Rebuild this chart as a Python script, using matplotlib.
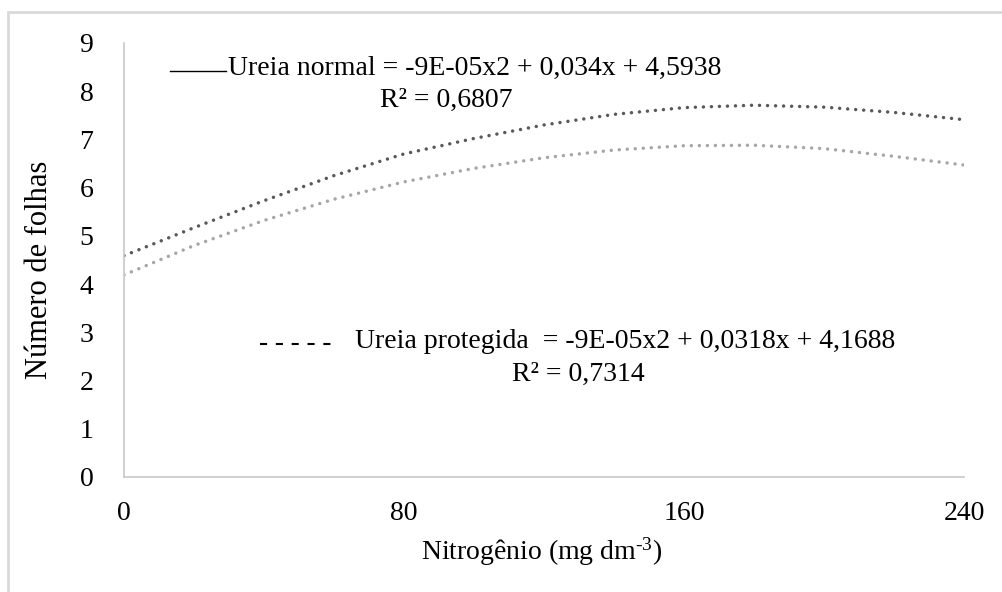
import matplotlib
matplotlib.use("Agg")
import matplotlib.pyplot as plt
from matplotlib.lines import Line2D
from matplotlib.patches import Rectangle

plt.rcParams['font.family'] = ['Liberation Serif', 'DejaVu Serif']
plt.rcParams['mathtext.fontset'] = 'custom'
plt.rcParams['mathtext.rm'] = 'Liberation Serif'
plt.rcParams['mathtext.it'] = 'Liberation Serif:italic'

# Data
nitrogen = [0, 20, 40, 60, 80, 100, 120, 140, 160, 180, 200, 220, 240]
ureia_normal = [4.59, 5.17, 5.73, 6.25, 6.70, 7.02, 7.30, 7.52, 7.66, 7.71, 7.67, 7.56, 7.41]
ureia_protegida = [4.19, 4.80, 5.32, 5.76, 6.12, 6.40, 6.62, 6.78, 6.87, 6.88, 6.81, 6.65, 6.47]
x_ticks = [0, 80, 160, 240]
y_ticks = [0, 1, 2, 3, 4, 5, 6, 7, 8, 9]

W, H = 1002, 592
fig = plt.figure(figsize=(W / 100, H / 100), dpi=100)
ax = fig.add_axes([124 / W, 1 - 477 / H, (964 - 124) / W, (477 - 43) / H])

dot = (0, (0.01, 2.3))
ax.plot(nitrogen, ureia_normal, color='#595959', lw=2.5, linestyle=dot,
        dash_capstyle='round', solid_capstyle='round')
ax.plot(nitrogen, ureia_protegida, color='#a6a6a6', lw=2.5, linestyle=dot,
        dash_capstyle='round', solid_capstyle='round')

ax.set_xlim(0, 240)
ax.set_ylim(0, 9)
ax.set_xticks(x_ticks)
ax.set_yticks(y_ticks)
ax.tick_params(length=0, labelsize=20, colors='#000000')
ax.tick_params(axis='y', pad=22)
ax.tick_params(axis='x', pad=17)
for s in ['top', 'right']:
    ax.spines[s].set_visible(False)
for s in ['left', 'bottom']:
    ax.spines[s].set_color('#c8c8c8')
    ax.spines[s].set_linewidth(1.2)

fig.text(40 / W, 1 - 270 / H, 'Número de folhas', rotation=90, fontsize=22,
         ha='center', va='center')
fig.text(542 / W, 1 - 552 / H, 'Nitrogênio (mg dm$^{\\text{-3}}$)', fontsize=20,
         ha='center', va='center')

# Equation annotations
fig.add_artist(Line2D([170 / W, 226 / W], [1 - 71 / H, 1 - 71 / H], color='black', lw=1.0))
fig.text(228 / W, 1 - 68 / H, 'Ureia normal = -9E-05x2 + 0,034x + 4,5938', fontsize=20,
         ha='left', va='center')
fig.text(380 / W, 1 - 100 / H, 'R² = 0,6807', fontsize=20, ha='left', va='center')

fig.add_artist(Line2D([260 / W, 333 / W], [1 - 344 / H, 1 - 344 / H], color='black', lw=1.5,
                      linestyle=(0, (3.4, 4.2))))
fig.text(355 / W, 1 - 341 / H, 'Ureia protegida  = -9E-05x2 + 0,0318x + 4,1688', fontsize=20,
         ha='left', va='center')
fig.text(512 / W, 1 - 374 / H, 'R² = 0,7314', fontsize=20, ha='left', va='center')

# Outer frame
fig.add_artist(Rectangle((8 / W, -0.05), 1.1, 1 - 12 / H + 0.05, transform=fig.transFigure,
                         fill=False, edgecolor='#d9d9d9', lw=2))

fig.savefig('out.png', dpi=100)
